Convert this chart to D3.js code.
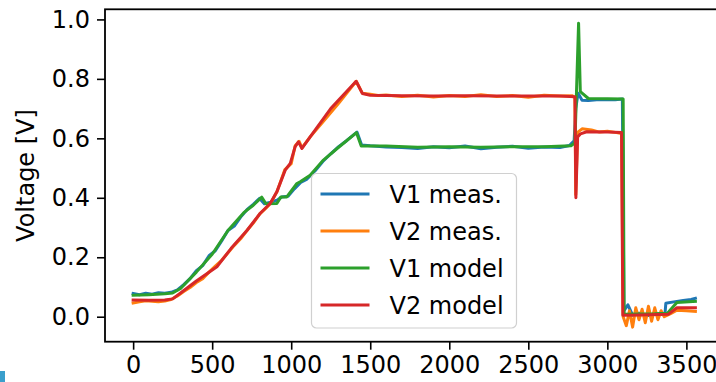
<!DOCTYPE html>
<html>
<head>
<meta charset="utf-8">
<script src="https://cdn.jsdelivr.net/npm/d3@7"></script>
<style>
  body { margin: 0; background: #fff; }
  svg text { font-family: "DejaVu Sans", sans-serif; fill: #000; }
</style>
</head>
<body>
<div id="chart"></div>
<script>
// series: [time, voltage]
var v1Meas = [[0,0.078],[40,0.074],[80,0.079],[120,0.076],[160,0.081],[200,0.079],[240,0.082],[280,0.090],[320,0.108],[360,0.128],[400,0.155],[440,0.172],[480,0.205],[520,0.222],[560,0.255],[600,0.290],[640,0.305],[680,0.335],[720,0.360],[760,0.378],[800,0.398],[830,0.380],[870,0.385],[910,0.392],[940,0.403],[980,0.405],[1020,0.430],[1060,0.452],[1100,0.463],[1150,0.490],[1200,0.522],[1250,0.548],[1300,0.572],[1350,0.592],[1416,0.621],[1445,0.578],[1500,0.575],[1600,0.571],[1700,0.569],[1800,0.566],[1900,0.572],[2000,0.568],[2100,0.574],[2200,0.565],[2300,0.570],[2400,0.573],[2500,0.567],[2600,0.571],[2700,0.569],[2760,0.576],[2790,0.592],[2800,0.700],[2815,0.752],[2840,0.728],[2880,0.727],[2950,0.731],[3050,0.730],[3095,0.732],[3105,0.020],[3130,0.040],[3160,0.005],[3200,0.012],[3250,0.003],[3300,0.010],[3350,0.008],[3365,0.012],[3370,0.045],[3420,0.050],[3480,0.055],[3530,0.058],[3557,0.062]];

var v2Meas = [[0,0.046],[40,0.050],[80,0.054],[120,0.052],[160,0.050],[200,0.053],[240,0.058],[280,0.070],[320,0.085],[360,0.098],[400,0.115],[440,0.128],[480,0.150],[520,0.170],[560,0.190],[600,0.215],[640,0.240],[680,0.262],[720,0.290],[760,0.315],[800,0.345],[840,0.365],[870,0.382],[910,0.420],[960,0.495],[1000,0.515],[1025,0.575],[1050,0.590],[1068,0.568],[1120,0.605],[1200,0.655],[1300,0.718],[1411,0.792],[1450,0.752],[1500,0.748],[1550,0.744],[1600,0.746],[1700,0.741],[1800,0.745],[1900,0.739],[2000,0.744],[2100,0.741],[2200,0.747],[2300,0.741],[2400,0.744],[2500,0.738],[2600,0.745],[2700,0.742],[2780,0.743],[2795,0.735],[2800,0.410],[2812,0.620],[2840,0.632],[2900,0.628],[2950,0.621],[3000,0.624],[3050,0.620],[3090,0.616],[3100,0.000],[3120,-0.030],[3140,0.020],[3160,-0.035],[3180,0.030],[3200,-0.010],[3220,0.025],[3240,-0.020],[3260,0.035],[3280,-0.015],[3300,0.030],[3320,-0.010],[3340,0.020],[3360,0.000],[3400,0.010],[3440,0.022],[3500,0.020],[3557,0.018]];

var v1Model = [[0,0.072],[100,0.074],[200,0.077],[250,0.080],[300,0.095],[400,0.150],[500,0.210],[600,0.290],[700,0.350],[760,0.375],[814,0.402],[840,0.380],[909,0.381],[935,0.403],[972,0.403],[1036,0.448],[1057,0.454],[1120,0.476],[1200,0.525],[1300,0.570],[1413,0.619],[1443,0.574],[1600,0.574],[1800,0.570],[2000,0.572],[2200,0.570],[2400,0.572],[2600,0.572],[2770,0.575],[2795,0.585],[2818,0.987],[2829,0.757],[2880,0.734],[3000,0.733],[3100,0.732],[3106,0.008],[3300,0.010],[3380,0.012],[3440,0.048],[3557,0.052]];

var v2Model = [[0,0.056],[100,0.055],[200,0.056],[250,0.060],[300,0.080],[400,0.120],[530,0.168],[620,0.230],[720,0.290],[804,0.348],[867,0.381],[909,0.420],[962,0.493],[994,0.516],[1025,0.572],[1046,0.588],[1068,0.566],[1120,0.605],[1250,0.700],[1411,0.792],[1450,0.751],[1500,0.745],[1700,0.743],[1900,0.742],[2100,0.743],[2300,0.742],[2500,0.742],[2700,0.742],[2795,0.740],[2801,0.400],[2812,0.605],[2830,0.615],[2870,0.622],[3000,0.621],[3090,0.620],[3098,0.005],[3200,0.006],[3385,0.008],[3440,0.030],[3557,0.030]];

var seriesNames = ['V1 meas.', 'V2 meas.', 'V1 model', 'V2 model'];
var seriesColors = ['#1f77b4', '#ff7f0e', '#2ca02c', '#d62728'];
var xTicks = [0, 500, 1000, 1500, 2000, 2500, 3000, 3500];
var yTicks = [0.0, 0.2, 0.4, 0.6, 0.8, 1.0];

var width = 716, height = 382;
var margin = {top: 9.3, left: 105, bottom: 40.3};
var plotRight = 724; // right spine sits just past the window edge

var svg = d3.select('#chart').append('svg')
  .attr('width', width).attr('height', height);

var x = d3.scaleLinear().domain([-178, 3738]).range([margin.left, plotRight]);
var y = d3.scaleLinear().domain([-0.084, 1.034]).range([height - margin.bottom, margin.top]);

var allSeries = [v1Meas, v2Meas, v1Model, v2Model];

var line = d3.line()
  .x(function(d){ return x(d[0]); })
  .y(function(d){ return y(d[1]); });

svg.append('g').selectAll('path')
  .data(allSeries)
  .enter().append('path')
  .attr('d', line)
  .attr('fill', 'none')
  .attr('stroke', function(d, i){ return seriesColors[i]; })
  .attr('stroke-width', 3)
  .attr('stroke-linejoin', 'round')
  .attr('stroke-linecap', 'square');

// axes
var xAxis = d3.axisBottom(x).tickValues(xTicks).tickSize(8).tickPadding(6)
  .tickFormat(d3.format('d'));
var yAxis = d3.axisLeft(y).tickValues(yTicks).tickSize(8).tickPadding(7)
  .tickFormat(d3.format('.1f'));

var gx = svg.append('g')
  .attr('transform', 'translate(0,' + y.range()[0] + ')')
  .call(xAxis);
var gy = svg.append('g')
  .attr('transform', 'translate(' + margin.left + ',0)')
  .call(yAxis);

[gx, gy].forEach(function(g){
  g.select('.domain').remove();
  g.selectAll('line').attr('stroke', '#000').attr('stroke-width', 1.6);
  g.selectAll('text').attr('font-size', 24).attr('fill', '#000');
});
gx.selectAll('text').attr('dy', '0.72em');

// spines
svg.append('rect')
  .attr('x', margin.left).attr('y', margin.top)
  .attr('width', plotRight - margin.left)
  .attr('height', y.range()[0] - margin.top)
  .attr('fill', 'none').attr('stroke', '#000').attr('stroke-width', 1.8);

svg.append('text')
  .attr('transform', 'translate(' + 34 + ',' + (margin.top + y.range()[0]) / 2 + ') rotate(-90)')
  .attr('text-anchor', 'middle')
  .attr('font-size', 24)
  .text('Voltage [V]');

// legend
var legend = svg.append('g').attr('transform', 'translate(311.5,173.5)');
legend.append('rect')
  .attr('width', 205).attr('height', 154.5)
  .attr('rx', 5).attr('ry', 5)
  .attr('fill', 'rgba(255,255,255,0.85)')
  .attr('stroke', '#d0d0d0').attr('stroke-width', 1.2);

var item = legend.selectAll('g.item')
  .data(seriesNames)
  .enter().append('g')
  .attr('class', 'item')
  .attr('transform', function(d, i){
    return 'translate(' + [0, 20.5 + i * 37] + ')';
  });

item.append('line')
  .attr('x1', 9).attr('x2', 58)
  .attr('stroke', function(d, i){ return seriesColors[i]; })
  .attr('stroke-width', 3);

item.append('text')
  .attr('x', 78).attr('dy', '0.36em')
  .attr('font-size', 24)
  .text(function(d){ return d; });

// small blue sliver in the bottom-left corner of the screenshot
svg.append('rect')
  .attr('x', 0).attr('y', 371).attr('width', 5).attr('height', 11)
  .attr('fill', '#3a9fcc');
</script>
</body>
</html>
